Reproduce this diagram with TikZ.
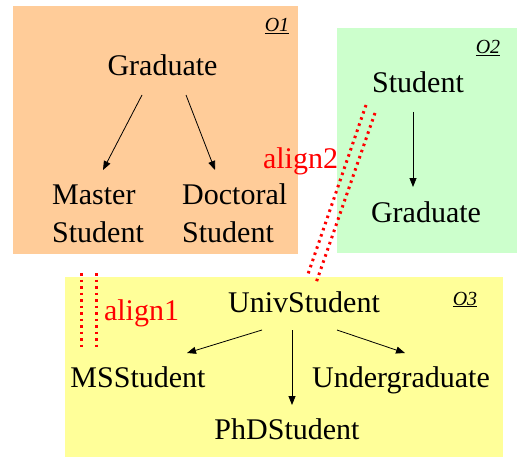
\documentclass[tikz,border=0pt]{standalone}
\usepackage{fontspec}
\setmainfont{Liberation Serif}
\usetikzlibrary{arrows.meta}
\definecolor{orangebg}{HTML}{FFCC99}
\definecolor{greenbg}{HTML}{CCFFCC}
\definecolor{yellowbg}{HTML}{FFFF99}
\begin{document}
\begin{tikzpicture}[x=1pt,y=-1pt,
  lbl/.style={inner sep=0pt, font=\fontsize{30}{38}\selectfont, anchor=base},
  lbl2/.style={inner sep=0pt, font=\fontsize{30}{38}\selectfont, anchor=base west, align=left},
  onto/.style={inner sep=0pt, font=\fontsize{20}{22}\selectfont\itshape, anchor=base},
  arr/.style={-{Triangle[length=9pt,width=7pt]}, line width=0.8pt},
  aln/.style={red, line width=3pt, dash pattern=on 2.5pt off 4pt},
  alnlbl/.style={lbl, text=red}]
\useasboundingbox (0,0) rectangle (518,457);
% ontology boxes
\fill[orangebg] (13,6) rectangle (298,254);
\fill[greenbg] (337,28) rectangle (517,253);
\fill[yellowbg] (65,277) rectangle (503,457);
% ontology labels
\node[onto] (o1) at (277,32) {\underline{O1}};
\node[onto] (o2) at (488,54) {\underline{O2}};
\node[onto] (o3) at (465,305) {\underline{O3}};
% O1
\node[lbl] (g1) at (162.5,76) {Graduate};
\node[lbl2] (ms1) at (52,242) {Master\\Student};
\node[lbl2] (ds1) at (182,242) {Doctoral\\Student};
\draw[arr] ([xshift=-20.5pt,yshift=-19pt]g1.base) -- ([xshift=51pt,yshift=72pt]ms1.base west);
\draw[arr] ([xshift=23.5pt,yshift=-19pt]g1.base) -- ([xshift=33pt,yshift=72pt]ds1.base west);
% O2
\node[lbl] (s2) at (418,93) {Student};
\node[lbl] (g2) at (426,222) {Graduate};
\draw[arr] ([xshift=-5pt,yshift=-19pt]s2.base) -- ([xshift=-13pt,yshift=35pt]g2.base);
% O3
\node[lbl] (us) at (304,312) {UnivStudent};
\node[lbl] (mss) at (138,387) {MSStudent};
\node[lbl] (ug) at (401,387) {Undergraduate};
\node[lbl] (phd) at (287,439) {PhDStudent};
\draw[arr] ([xshift=-42pt,yshift=-18pt]us.base) -- ([xshift=49pt,yshift=34pt]mss.base);
\draw[arr] ([xshift=-12pt,yshift=-18pt]us.base) -- ([xshift=5pt,yshift=34pt]phd.base);
\draw[arr] ([xshift=33pt,yshift=-18pt]us.base) -- ([xshift=4pt,yshift=34pt]ug.base);
% alignments
\coordinate (a1t1) at (81,273);
\coordinate (a1b1) at (81,350);
\coordinate (a1t2) at (96,273);
\coordinate (a1b2) at (96,350);
\draw[aln] (a1t1) -- (a1b1);
\draw[aln] (a1t2) -- (a1b2);
\node[alnlbl] (al1) at (141.5,320) {align1};
\coordinate (a2t1) at (366,105);
\coordinate (a2b1) at (307,277);
\coordinate (a2t2) at (375,113);
\coordinate (a2b2) at (316,283);
\draw[aln] (a2t1) -- (a2b1);
\draw[aln] (a2t2) -- (a2b2);
\node[alnlbl] (al2) at (300.5,168) {align2};
\end{tikzpicture}
\end{document}
